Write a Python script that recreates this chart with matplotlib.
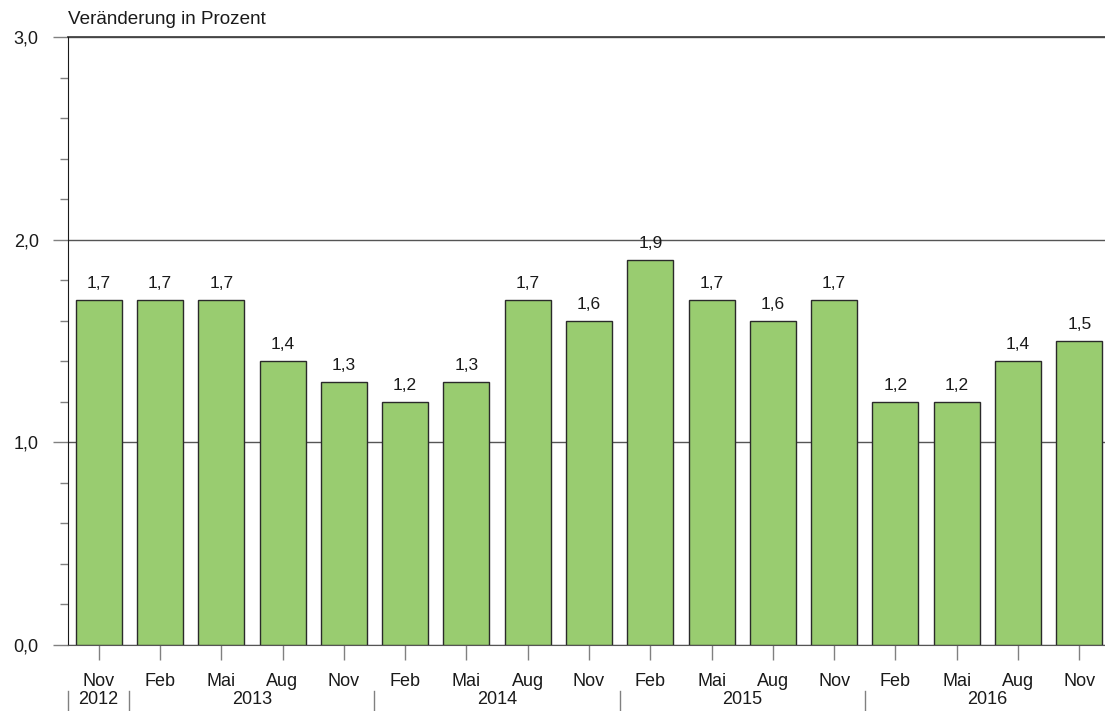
import matplotlib
matplotlib.use("Agg")
import matplotlib.pyplot as plt
from matplotlib.ticker import MultipleLocator
import matplotlib.transforms as mtransforms

months = ["Nov", "Feb", "Mai", "Aug", "Nov", "Feb", "Mai", "Aug", "Nov",
          "Feb", "Mai", "Aug", "Nov", "Feb", "Mai", "Aug", "Nov"]
values = [1.7, 1.7, 1.7, 1.4, 1.3, 1.2, 1.3, 1.7, 1.6,
          1.9, 1.7, 1.6, 1.7, 1.2, 1.2, 1.4, 1.5]
years = ["2012", "2013", "2014", "2015", "2016"]
year_centers = [0, 2.5, 6.5, 10.5, 14.5]
year_bounds = [-0.5, 0.5, 4.5, 8.5, 12.5]

plt.rcParams['font.family'] = ['Liberation Sans', 'DejaVu Sans']

fig = plt.figure(figsize=(11.05, 7.11), dpi=100)
ax = fig.add_axes([68/1105, 1-645/711, (1110-68)/1105, (645-37)/711])

x = list(range(len(values)))
ax.bar(x, values, width=0.75, color="#99cc70", edgecolor="#2a2a2a", linewidth=1.0, zorder=3)

for xi, v in zip(x, values):
    ax.annotate(f"{v:.1f}".replace(".", ","), (xi, v), xytext=(0, 6.5), textcoords="offset points",
                ha="center", va="bottom", fontsize=12.5, color="#1a1a1a")

ax.set_xlim(-0.5, 16.5)
ax.set_ylim(0, 3.0)
ax.set_yticks([0, 1, 2, 3])
ax.yaxis.set_minor_locator(MultipleLocator(0.2))
ax.set_yticklabels(["0,0", "1,0", "2,0", "3,0"], fontsize=13, color="#1a1a1a")
ax.tick_params(axis="y", which="major", length=11, width=1.0, color="#808080", pad=10)
ax.tick_params(axis="y", which="minor", length=6, width=1.0, color="#808080")
ax.grid(axis="y", which="major", color="#555555", linewidth=1.0, zorder=1)
ax.axhline(3.0, color="#444444", linewidth=1.3, zorder=2, clip_on=False)

ax.set_xticks(x)
ax.set_xticklabels(months, fontsize=13, color="#1a1a1a")
ax.tick_params(axis="x", which="major", length=11, width=1.0, color="#808080", pad=9)

for s in ["top", "right"]:
    ax.spines[s].set_visible(False)
ax.spines["left"].set_color("#1a1a1a")
ax.spines["bottom"].set_color("#555555")

trans = mtransforms.blended_transform_factory(ax.transData, ax.transAxes)
for yr, c in zip(years, year_centers):
    ax.text(c, -(700-645)/608, yr, transform=trans, ha="center", va="center", fontsize=13, color="#1a1a1a")
for b in year_bounds:
    ax.plot([b, b], [-(691-645)/608, -(712-645)/608], transform=trans, color="#808080", linewidth=1.0, clip_on=False)

fig.text(68/1105, 1-19/711, "Veränderung in Prozent", ha="left", va="center", fontsize=13.6, color="#1a1a1a")

fig.savefig("out.png", dpi=100)
